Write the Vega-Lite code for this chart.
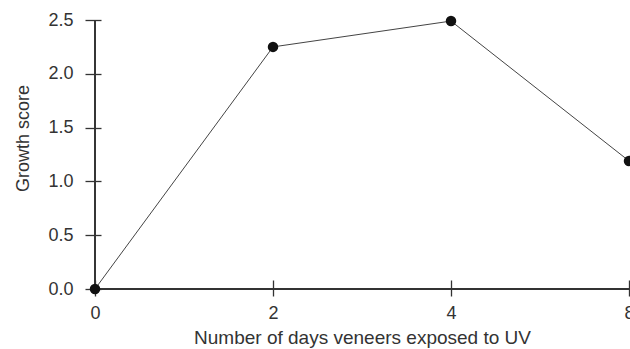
{
  "$schema": "https://vega.github.io/schema/vega-lite/v6.json",
  "autosize": "none",
  "width": 534,
  "height": 269,
  "padding": {"left": 95, "top": 20, "right": 1, "bottom": 60},
  "background": "white",
  "data": {
    "values": [
      {"days": 0, "score": 0.0},
      {"days": 2, "score": 2.25},
      {"days": 4, "score": 2.49},
      {"days": 8, "score": 1.19}
    ]
  },
  "config": {
    "view": {"stroke": null},
    "font": "Liberation Sans",
    "axis": {
      "grid": false,
      "domain": false,
      "tickColor": "#333",
      "tickWidth": 1.3,
      "tickSize": 16,
      "labelFont": "Liberation Sans",
      "labelFontSize": 18,
      "labelColor": "#333",
      "titleFont": "Liberation Sans",
      "titleFontWeight": "normal",
      "titleColor": "#333"
    }
  },
  "layer": [
    {
      "mark": {"type": "line", "color": "#444", "strokeWidth": 1},
      "encoding": {
        "x": {
          "field": "days",
          "type": "ordinal",
          "scale": {"type": "point", "domain": [0, 2, 4, 8], "padding": 0},
          "axis": {
            "title": "Number of days veneers exposed to UV",
            "titleFontSize": 19,
            "titlePadding": 6,
            "labelAngle": 0,
            "offset": -9,
            "labelPadding": 8
          }
        },
        "y": {
          "field": "score",
          "type": "quantitative",
          "scale": {"domain": [0, 2.5], "nice": false},
          "axis": {
            "title": "Growth score",
            "titleFontSize": 18,
            "titlePadding": 15,
            "titleY": 118,
            "values": [0, 0.5, 1, 1.5, 2, 2.5],
            "format": ".1f",
            "offset": -6,
            "labelPadding": 12
          }
        }
      }
    },
    {
      "mark": {"type": "rule", "color": "#333", "strokeWidth": 1.3},
      "encoding": {
        "x": {"datum": 0, "type": "ordinal"},
        "y": {"datum": 0, "type": "quantitative"},
        "y2": {"datum": 2.5}
      }
    },
    {
      "mark": {"type": "rule", "color": "#333", "strokeWidth": 1.3},
      "encoding": {
        "x": {"datum": 0, "type": "ordinal"},
        "x2": {"datum": 8},
        "y": {"datum": 0, "type": "quantitative"}
      }
    },
    {
      "mark": {"type": "point", "filled": true, "color": "#111", "size": 110, "opacity": 1},
      "encoding": {
        "x": {"field": "days", "type": "ordinal"},
        "y": {"field": "score", "type": "quantitative"}
      }
    }
  ]
}
